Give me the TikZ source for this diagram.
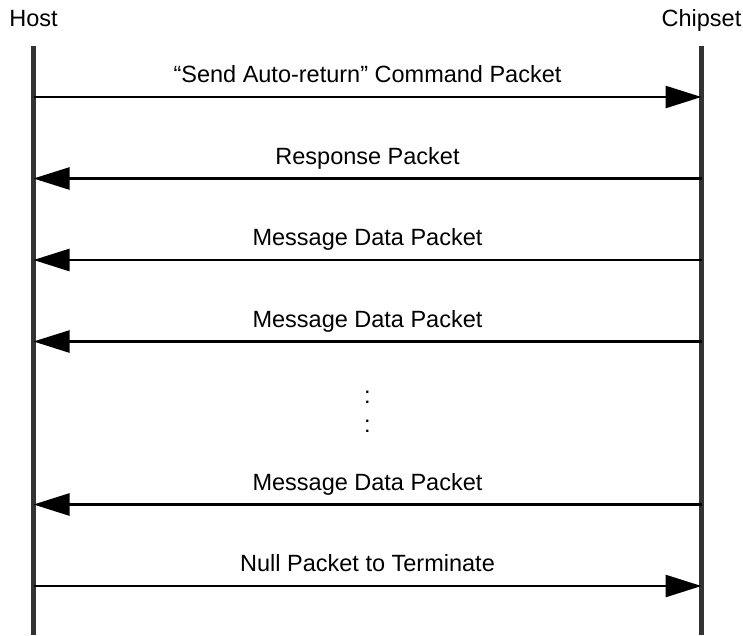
\documentclass[tikz,border=0pt]{standalone}
\usepackage{fontspec}
\setmainfont{Liberation Sans}
\usetikzlibrary{arrows.meta}
\tikzset{
  lifeline/.style={line width=5.5pt,draw={rgb,255:red,51;green,51;blue,51}},
  msg/.style={line width=2.6pt,-{Triangle[length=36pt,width=22pt]}},
  lbl/.style={midway,anchor=base,yshift=14.5pt}
}

\begin{document}
\begin{tikzpicture}[x=1pt,y=-1pt,font=\fontsize{23.5}{28}\selectfont]
      \useasboundingbox (0,0) rectangle (743,635);
      \node[anchor=base] (host) at (33.5,26.7) {Host};
      \node[anchor=base] (chip) at (701.5,26.7) {Chipset};
      \coordinate (htop) at (33.5,46);
      \coordinate (hbot) at (33.5,635);
      \coordinate (ctop) at (701.5,46);
      \coordinate (cbot) at (701.5,635);
      \foreach \i/\y in {1/97,2/178.5,3/260,4/341.5,5/504.5,6/586} {
        \coordinate (h\i) at (33.5,\y);
        \coordinate (c\i) at (701.5,\y);
      }

      \draw[lifeline] (htop) -- (hbot);
      \draw[lifeline] (ctop) -- (cbot);

      \draw[msg] (h1) -- node[lbl] {“Send Auto-return” Command Packet} (c1);
      \draw[msg] (c2) -- node[lbl] {Response Packet} (h2);
      \draw[msg] (c3) -- node[lbl] {Message Data Packet} (h3);
      \draw[msg] (c4) -- node[lbl] {Message Data Packet} (h4);
      \node[anchor=base] (dots1) at (367.5,403.5) {:};
      \node[anchor=base] (dots2) at (367.5,432.5) {:};
      \draw[msg] (c5) -- node[lbl] {Message Data Packet} (h5);
      \draw[msg] (h6) -- node[lbl] {Null Packet to Terminate} (c6);
    \end{tikzpicture}
\end{document}
